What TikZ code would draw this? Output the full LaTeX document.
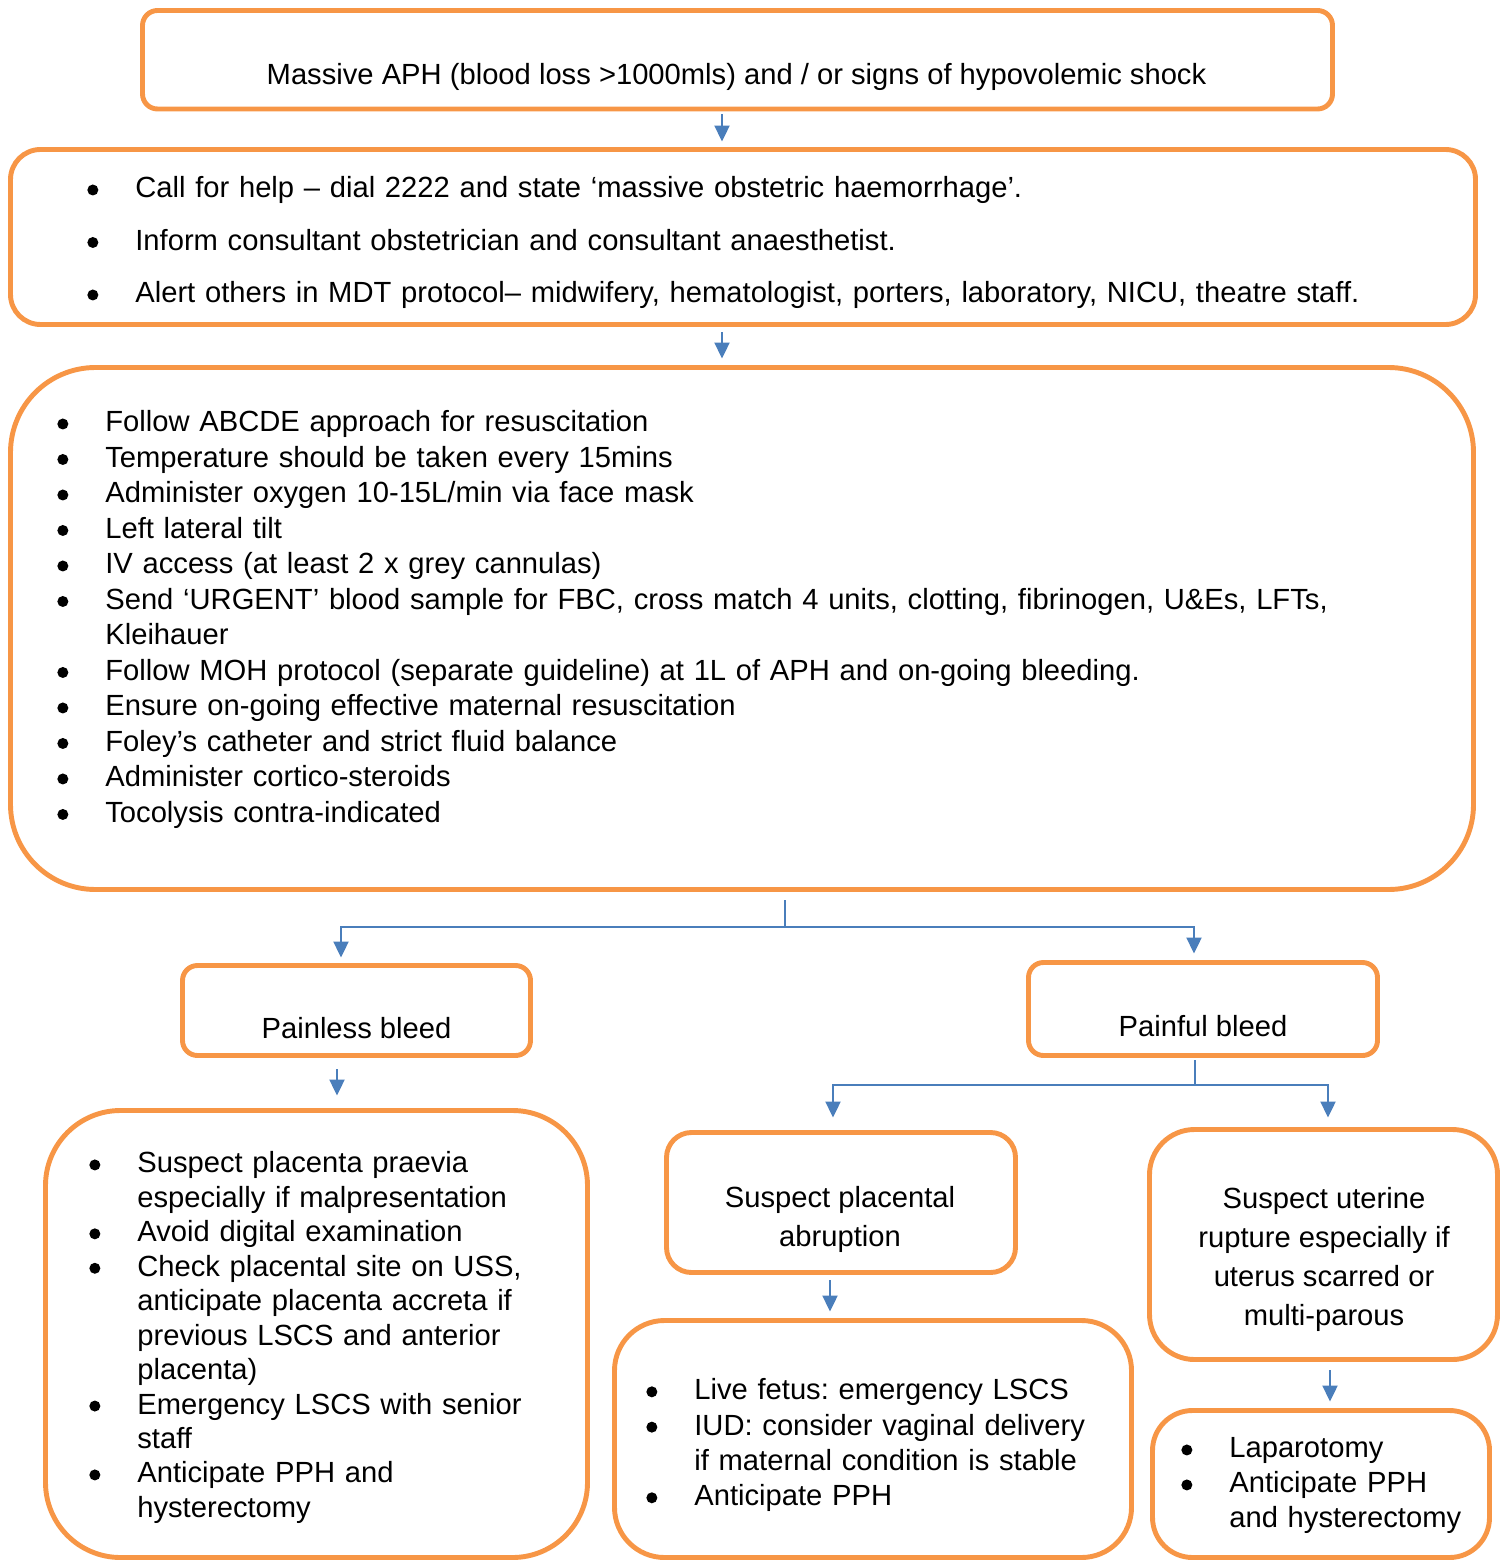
\documentclass[tikz,border=0pt]{standalone}
\usepackage{fontspec}
\setmainfont{Liberation Sans}
\usepackage{enumitem}
\usetikzlibrary{arrows.meta}
\frenchspacing
\definecolor{boxorange}{HTML}{F79646}
\definecolor{linkblue}{HTML}{4A7EBB}
\newcommand{\bulletdot}{\raisebox{0.05cm}{\tikz\fill (0,0) circle (0.11cm);}}
\setlist[itemize]{nosep, leftmargin=0.96cm, labelindent=0pt, labelwidth=0.22cm, labelsep=0.74cm, align=left, label=\bulletdot}
\tikzset{
  flowbox/.style={draw=boxorange, line width=2.8pt, rounded corners=#1, inner sep=0pt},
  flowbox/.default=0.3cm,
  flowtext/.style={font=\fontsize{16.6}{22.2}\selectfont, inner sep=0pt, align=center},
  flowlist/.style={font=\fontsize{16.6}{20.2}\selectfont, inner sep=0pt, align=left, anchor=base west, text width=#1},
  flowline/.style={draw=linkblue, line width=1.2pt},
  flowarrow/.style={flowline, -{Triangle[length=0.32cm, width=0.3cm]}},
}

\begin{document}
\begin{tikzpicture}
  \useasboundingbox (0,0) rectangle (30.02,-31.24);

  % Trigger
  \node[flowbox, minimum width=23.8cm, minimum height=1.97cm] (aph) at (14.75,-1.195) {};
  \node[flowtext, anchor=base] (aphtext) at (14.73,-1.70) {Massive APH (blood loss >1000mls) and / or signs of hypovolemic shock};

  % Call for help
  \node[flowbox=0.6cm, minimum width=29.3cm, minimum height=3.5cm] (alert) at (14.86,-4.74) {};
  \node[flowlist=27.5cm] (alerttext) at (1.74,-3.25) {%
    \begin{itemize}[itemsep=0.34cm]
      \item Call for help – dial 2222 and state ‘massive obstetric haemorrhage’.
      \item Inform consultant obstetrician and consultant anaesthetist.
      \item Alert others in MDT protocol– midwifery, hematologist, porters, laboratory, NICU, theatre staff.
    \end{itemize}};

  % Resuscitation
  \node[flowbox=1.7cm, minimum width=29.26cm, minimum height=10.44cm] (care) at (14.84,-12.57) {};
  \node[flowlist=27.6cm] (caretext) at (1.14,-7.93) {%
    \begin{itemize}
      \item Follow ABCDE approach for resuscitation
      \item Temperature should be taken every 15mins
      \item Administer oxygen 10-15L/min via face mask
      \item Left lateral tilt
      \item IV access (at least 2 x grey cannulas)
      \item Send ‘URGENT’ blood sample for FBC, cross match 4 units, clotting, fibrinogen, U\&Es, LFTs,\newline Kleihauer
      \item Follow MOH protocol (separate guideline) at 1L of APH and on-going bleeding.
      \item Ensure on-going effective maternal resuscitation
      \item Foley’s catheter and strict fluid balance
      \item Administer cortico-steroids
      \item Tocolysis contra-indicated
    \end{itemize}};

  % Bleed type
  \node[flowbox, minimum width=6.96cm, minimum height=1.8cm] (painless) at (7.13,-20.21) {};
  \node[flowtext, anchor=base] (painlesstext) at (7.13,-20.76) {Painless bleed};
  \node[flowbox, minimum width=6.98cm, minimum height=1.86cm] (painful) at (24.06,-20.18) {};
  \node[flowtext, anchor=base] (painfultext) at (24.06,-20.72) {Painful bleed};

  % Painless branch
  \node[flowbox=1.5cm, minimum width=10.84cm, minimum height=8.94cm] (praevia) at (6.33,-26.68) {};
  \node[flowlist=9.6cm, font=\fontsize{16.6}{19.6}\selectfont] (praeviatext) at (1.78,-22.77) {%
    \begin{itemize}
      \item Suspect placenta praevia\newline especially if malpresentation
      \item Avoid digital examination
      \item Check placental site on USS,\newline anticipate placenta accreta if\newline previous LSCS and anterior\newline placenta)
      \item Emergency LSCS with senior\newline staff
      \item Anticipate PPH and\newline hysterectomy
    \end{itemize}};

  % Painful branch
  \node[flowbox=0.5cm, minimum width=6.98cm, minimum height=2.8cm] (abruption) at (16.82,-24.05) {};
  \node[flowtext] (abruptiontext) at (16.80,-24.38) {Suspect placental\\abruption};
  \node[flowbox=0.9cm, minimum width=6.96cm, minimum height=4.6cm] (rupture) at (26.47,-24.89) {};
  \node[flowtext] (rupturetext) at (26.48,-25.18) {Suspect uterine\\rupture especially if\\uterus scarred or\\multi-parous};

  \node[flowbox=1cm, minimum width=10.34cm, minimum height=4.74cm] (abruptcare) at (17.46,-28.78) {};
  \node[flowlist=9.5cm, font=\fontsize{16.6}{20.1}\selectfont] (abruptcaretext) at (12.92,-27.29) {%
    \begin{itemize}
      \item Live fetus: emergency LSCS
      \item IUD: consider vaginal delivery\newline if maternal condition is stable
      \item Anticipate PPH
    \end{itemize}};
  \node[flowbox=0.8cm, minimum width=6.74cm, minimum height=2.94cm] (rupturecare) at (26.42,-29.68) {};
  \node[flowlist=6cm, font=\fontsize{16.6}{19.9}\selectfont] (rupturecaretext) at (23.62,-28.46) {%
    \begin{itemize}
      \item Laparotomy
      \item Anticipate PPH\newline and hysterectomy
    \end{itemize}};

  % Forks
  \coordinate (carefork) at (15.7,-18.54);
  \coordinate (painfork) at (23.9,-21.7);

  % Arrows
  \draw[flowarrow, shorten <=0.06cm, shorten >=0.11cm] ([xshift=-0.31cm]aph.south) -- ([xshift=-0.31cm]aph.south |- alert.north);
  \draw[flowarrow, shorten <=0.11cm, shorten >=0.13cm] ([xshift=-0.42cm]alert.south) -- ([xshift=-0.42cm]alert.south |- care.north);
  \draw[flowline, shorten <=0.17cm] (care.south -| carefork) -- (carefork);
  \draw[flowarrow, shorten >=0.11cm] (carefork) -| ([xshift=-0.31cm]painless.north);
  \draw[flowarrow, shorten >=0.13cm] (carefork) -| ([xshift=-0.18cm]painful.north);
  \draw[flowarrow, shorten <=0.23cm, shorten >=0.25cm] ([xshift=-0.39cm]painless.south) -- ([xshift=-0.39cm]painless.south |- praevia.north);
  \draw[flowline, shorten <=0.05cm] (painful.south -| painfork) -- (painfork);
  \draw[flowarrow, shorten >=0.25cm] (painfork) -| ([xshift=-0.16cm]abruption.north);
  \draw[flowarrow, shorten >=0.19cm] (painfork) -| ([xshift=0.09cm]rupture.north);
  \draw[flowarrow, shorten <=0.11cm, shorten >=0.13cm] ([xshift=-0.22cm]abruption.south) -- ([xshift=-0.22cm]abruption.south |- abruptcare.north);
  \draw[flowarrow, shorten <=0.17cm, shorten >=0.13cm] ([xshift=0.13cm]rupture.south) -- ([xshift=0.13cm]rupture.south |- rupturecare.north);
\end{tikzpicture}
\end{document}
